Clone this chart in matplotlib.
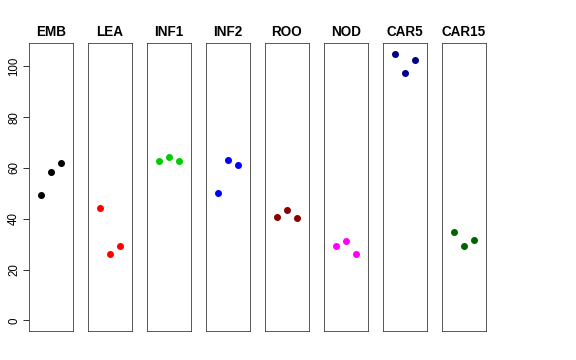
import matplotlib
matplotlib.use("Agg")
import matplotlib.pyplot as plt

plt.rcParams["font.family"] = ["Liberation Sans", "DejaVu Sans"]

# sample groups and their replicate values
groups = ["EMB", "LEA", "INF1", "INF2", "ROO", "NOD", "CAR5", "CAR15"]
colors = ["#000000", "#FF0000", "#00CD00", "#0000FF", "#8B0000", "#FF00FF", "#00008B", "#006400"]
values = [
    [49.5, 58.5, 61.8],
    [44.1, 26.0, 29.3],
    [62.9, 64.2, 62.6],
    [50.1, 63.2, 61.3],
    [40.8, 43.6, 40.4],
    [29.4, 31.4, 26.3],
    [104.9, 97.5, 102.4],
    [34.8, 29.4, 31.6],
]
reps = [1, 2, 3]
yticks = [0, 20, 40, 60, 80, 100]

W, H = 576, 360
fig = plt.figure(figsize=(W / 72, H / 72), dpi=72)

# panel geometry in pixels
left0 = 29
pw = 44
step = 59
top = 43
bottom = 331

for i in range(len(groups)):
    ax = fig.add_axes([(left0 + i * step) / W, (H - bottom) / H, pw / W, (bottom - top) / H])
    ax.plot(reps, values[i], "o", color=colors[i], markersize=7, markeredgewidth=0)
    ax.set_xlim(-0.16, 4.16)
    ax.set_ylim(-4.2, 109.2)
    ax.set_xticks([])
    for s in ax.spines.values():
        s.set_linewidth(0.8)
        s.set_color("#333333")
    ax.set_title(groups[i], fontsize=13.5, fontweight="bold", pad=7)
    if i == 0:
        ax.set_yticks(yticks)
        ax.set_yticklabels([str(t) for t in yticks], rotation=90, va="center", fontsize=11.5)
        ax.tick_params(axis="y", length=6, width=0.8, pad=3)
    else:
        ax.set_yticks([])

fig.savefig("out.png", dpi=72)
